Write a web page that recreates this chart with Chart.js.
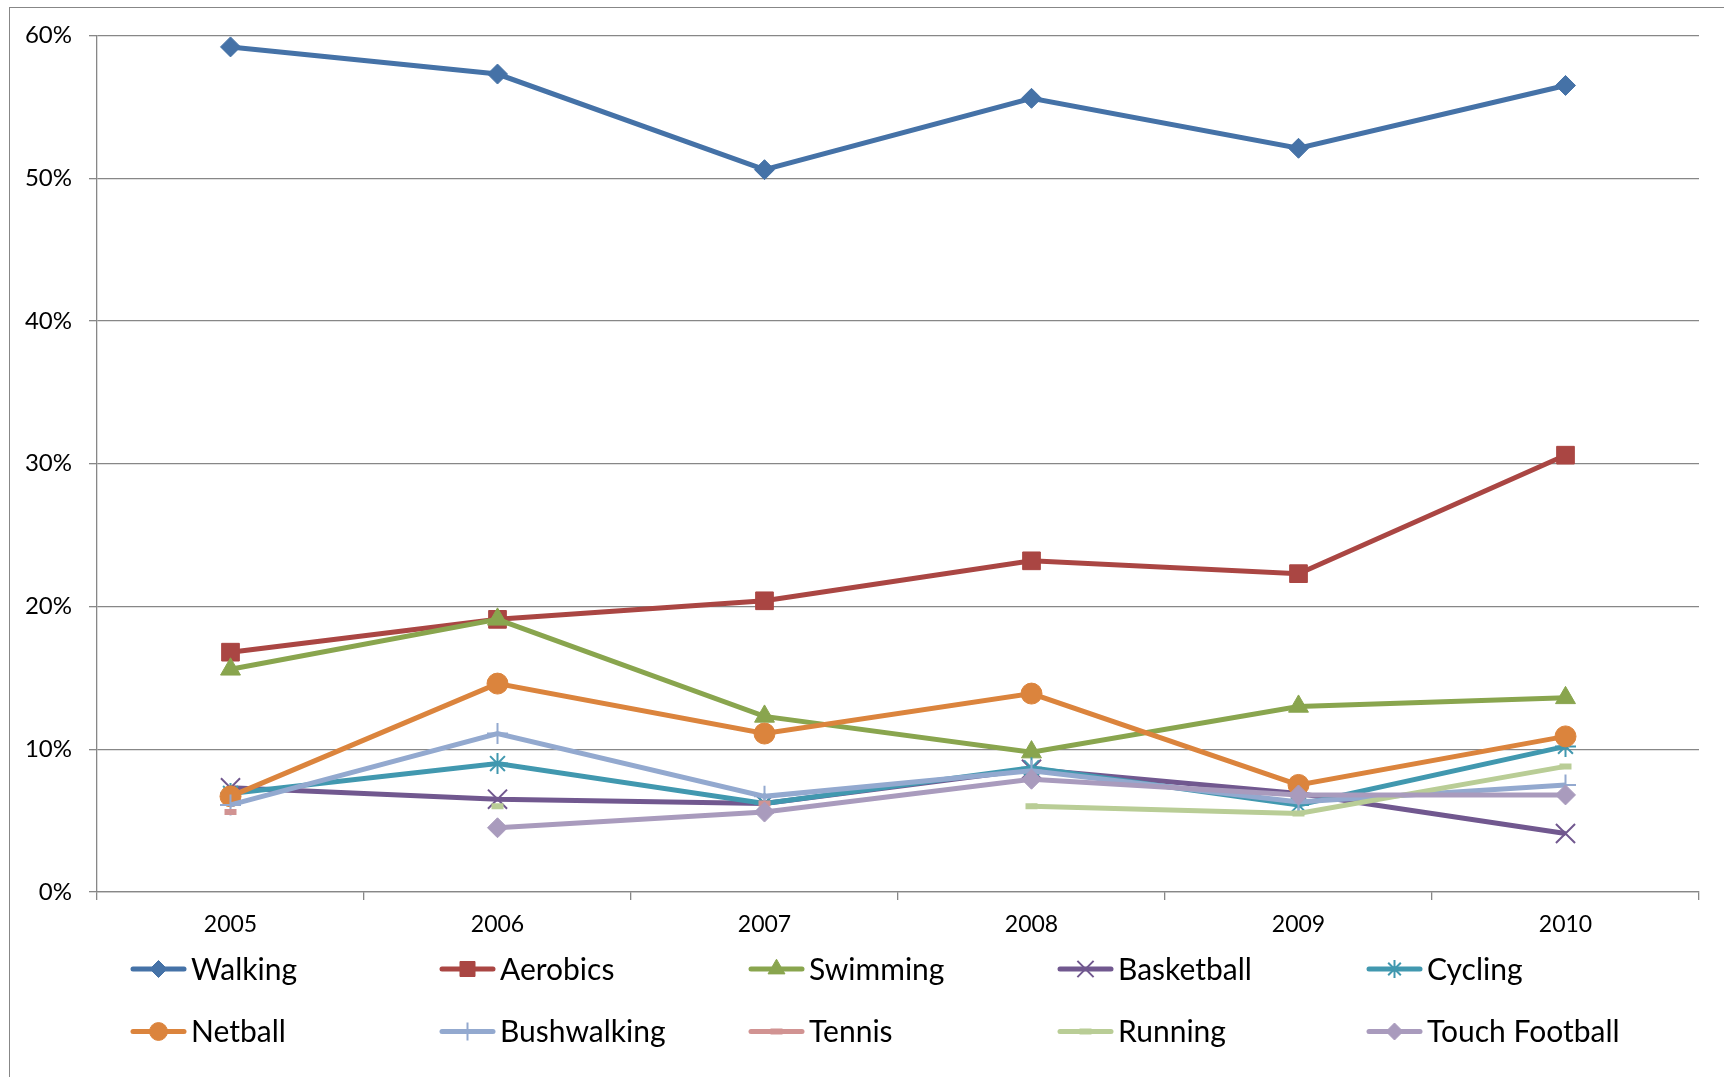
<!DOCTYPE html>
<html>
<head>
<meta charset="utf-8">
<title>Sport participation 2005–2010</title>
<script src="https://cdn.jsdelivr.net/npm/chart.js@4/dist/chart.umd.min.js"></script>
<style>
  html, body { margin: 0; padding: 0; background: #fff; }
  #wrap { position: relative; width: 1724px; height: 1077px; overflow: hidden; }
  #frame { position: absolute; left: 9px; top: 7px; width: 1800px; height: 1200px;
           border-left: 1.5px solid #878787; border-top: 1.5px solid #878787; }
  #chart { position: absolute; left: 0; top: 0; }
</style>
</head>
<body>
<div id="wrap">
  <div id="frame"></div>
  <canvas id="chart" width="1724" height="1077"></canvas>
</div>
<script>
// Years on the category axis
const years = ['2005', '2006', '2007', '2008', '2009', '2010'];

// Share of respondents (%) per activity; null = no value recorded that year
const walking       = [59.2, 57.3, 50.6, 55.6, 52.1, 56.5];
const aerobics      = [16.8, 19.1, 20.4, 23.2, 22.3, 30.6];
const swimming      = [15.6, 19.1, 12.3,  9.8, 13.0, 13.6];
const basketball    = [ 7.3,  6.5,  6.2,  8.6,  6.9,  4.1];
const cycling       = [ 6.9,  9.0,  6.2,  8.7,  6.1, 10.2];
const netball       = [ 6.7, 14.6, 11.1, 13.9,  7.5, 10.9];
const bushwalking   = [ 6.1, 11.1,  6.7,  8.5,  6.3,  7.5];
const tennis        = [ 5.6, null,  6.2, null, null, null];
const running       = [null,  6.0, null,  6.0,  5.5,  8.8];
const touchFootball = [null,  4.5,  5.6,  7.9,  6.8,  6.8];

const seriesNames = ['Walking', 'Aerobics', 'Swimming', 'Basketball', 'Cycling',
                     'Netball', 'Bushwalking', 'Tennis', 'Running', 'Touch Football'];
const seriesValues = [walking, aerobics, swimming, basketball, cycling,
                      netball, bushwalking, tennis, running, touchFootball];

// Visual style per series
const styles = [
  { color: '#4572A7', point: 'rectRot',  radius: 10,  pbw: 1 },
  { color: '#AA4643', point: 'rect',     radius: 12.5,pbw: 1 },
  { color: '#89A54E', point: 'triangle', radius: 11.5,pbw: 1 },
  { color: '#71588F', point: 'crossRot', radius: 13.5,pbw: 2 },
  { color: '#4198AF', point: 'star',     radius: 10.5,pbw: 2 },
  { color: '#DB843D', point: 'circle',   radius: 10.5,pbw: 1 },
  { color: '#93A9CF', point: 'cross',    radius: 10.5,pbw: 2 },
  { color: '#D19392', point: 'line',     radius: 6,   pbw: 6 },
  { color: '#B9CD96', point: 'line',     radius: 6,   pbw: 6 },
  { color: '#A99BBD', point: 'rectRot',  radius: 10,  pbw: 1 }
];

const AXIS_GREY = '#878787';
Chart.defaults.font.family = 'Lato, "Open Sans", "DejaVu Sans", sans-serif';
Chart.defaults.color = '#000';

const datasets = seriesNames.map((name, i) => ({
  label: name,
  data: seriesValues[i],
  borderColor: styles[i].color,
  backgroundColor: styles[i].color,
  borderWidth: 5,
  tension: 0,
  pointStyle: styles[i].point,
  pointRadius: styles[i].radius,
  pointHoverRadius: styles[i].radius,
  pointBorderWidth: styles[i].pbw,
  pointBackgroundColor: styles[i].color,
  pointBorderColor: styles[i].color,
  spanGaps: false,
  order: seriesNames.length - i   // later series painted over earlier ones
}));

// Legend laid out as a fixed 5-column grid under the axis
const gridLegend = {
  id: 'gridLegend',
  afterDraw(chart) {
    const ctx = chart.ctx;
    const cols = 5, x0 = 131, colW = 309, y0 = 969, rowH = 62.5, lineLen = 55;
    ctx.save();
    chart.data.datasets.forEach((ds, i) => {
      const col = i % cols, row = Math.floor(i / cols);
      const x = x0 + col * colW, y = y0 + row * rowH;
      ctx.strokeStyle = ds.borderColor;
      ctx.lineWidth = 5;
      ctx.lineCap = 'round';
      ctx.beginPath();
      ctx.moveTo(x + 2, y);
      ctx.lineTo(x + lineLen - 2, y);
      ctx.stroke();
      ctx.lineCap = 'butt';
      ctx.fillStyle = ds.pointBackgroundColor;
      ctx.strokeStyle = ds.pointBorderColor;
      ctx.lineWidth = ds.pointBorderWidth;
      Chart.helpers.drawPoint(ctx, {
        pointStyle: ds.pointStyle,
        radius: ds.pointStyle === 'line' ? 6 : ds.pointRadius * 0.85,
        borderWidth: ds.pointBorderWidth,
        rotation: 0
      }, x + lineLen / 2, y);
      ctx.fillStyle = '#000';
      ctx.font = '30px ' + Chart.defaults.font.family;
      ctx.textAlign = 'left';
      ctx.textBaseline = 'alphabetic';
      ctx.fillText(ds.label, x + 60, y + 10.5);
    });
    ctx.restore();
  }
};

new Chart(document.getElementById('chart'), {
  type: 'line',
  data: { labels: years, datasets },
  options: {
    responsive: false,
    maintainAspectRatio: false,
    devicePixelRatio: 1,
    animation: false,
    layout: { padding: { left: 0, right: 25, top: 35.5, bottom: 125 } },
    plugins: {
      legend: { display: false },
      tooltip: { enabled: false }
    },
    scales: {
      x: {
        type: 'category',
        offset: true,
        grid: {
          display: true,
          offset: true,
          drawOnChartArea: false,
          drawTicks: true,
          tickLength: 8,
          color: AXIS_GREY,
          lineWidth: 1.3
        },
        border: { display: true, color: AXIS_GREY, width: 1.3 },
        ticks: { font: { size: 23 }, padding: 11, maxRotation: 0, color: '#000' },
        afterFit(scale) { scale.height = 60; }
      },
      y: {
        min: 0,
        max: 60,
        grid: {
          color: AXIS_GREY,
          lineWidth: 1.3,
          drawTicks: true,
          tickLength: 8
        },
        border: { display: true, color: AXIS_GREY, width: 1.3 },
        ticks: {
          stepSize: 10,
          padding: 17,
          font: { size: 24 },
          color: '#000',
          callback: v => v + '%'
        },
        afterFit(scale) { scale.width = 97; }
      }
    }
  },
  plugins: [gridLegend]
});
</script>
</body>
</html>
